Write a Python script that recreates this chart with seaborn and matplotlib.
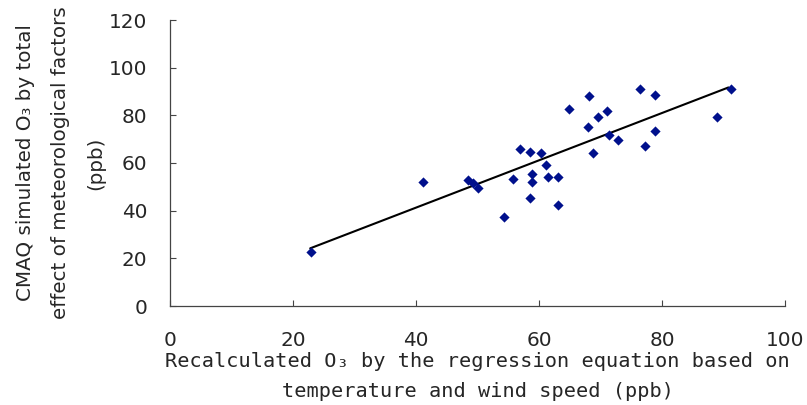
import matplotlib
matplotlib.use("Agg")
import matplotlib.pyplot as plt
import seaborn as sns
import pandas as pd

# ---- data ----
recalc_o3 = [22.9, 41.1, 48.5, 49.2, 50.0, 55.7, 54.3, 56.9, 58.5, 60.3,
             61.1, 58.8, 58.8, 61.4, 63.1, 58.5, 63.1, 64.8, 68.2, 68.0,
             69.6, 71.1, 71.4, 72.8, 68.8, 76.5, 78.8, 78.8, 77.3, 88.9, 91.2]
cmaq_o3 = [22.6, 52.0, 52.8, 51.7, 49.5, 53.2, 37.4, 66.0, 64.7, 64.3,
           59.2, 55.2, 51.9, 54.0, 54.0, 45.4, 42.3, 82.5, 88.1, 75.2,
           79.4, 81.9, 71.6, 69.7, 64.3, 91.0, 88.6, 73.4, 67.2, 79.4, 90.9]
trend_x = [22.8, 90.8]
trend_y = [24.2, 91.7]
x_ticks = [0, 20, 40, 60, 80, 100]
y_ticks = [0, 20, 40, 60, 80, 100, 120]

sns.set_style("white")
plt.rcParams["font.family"] = ["DejaVu Sans"]

df = pd.DataFrame({"x": recalc_o3, "y": cmaq_o3})
line_df = pd.DataFrame({"x": trend_x, "y": trend_y})

fig = plt.figure(figsize=(8.07, 4.05), dpi=100)
ax = fig.add_axes([170 / 807, 1 - 306 / 405, 615 / 807, 286 / 405])

sns.lineplot(data=line_df, x="x", y="y", ax=ax, color="black", linewidth=1.5)
sns.scatterplot(data=df, x="x", y="y", ax=ax, marker="D", s=27,
                color="#00108C", edgecolor="#00108C", linewidth=0, zorder=3)

ax.set_xlim(0, 100)
ax.set_ylim(0, 120)
ax.set_xticks(x_ticks)
ax.set_yticks(y_ticks)
ax.set_xticklabels([str(t) for t in x_ticks])
ax.set_yticklabels([str(t) for t in y_ticks])

for s in ["top", "right"]:
    ax.spines[s].set_visible(False)
for s in ["left", "bottom"]:
    ax.spines[s].set_color("#444444")
    ax.spines[s].set_linewidth(0.9)

ax.tick_params(axis="x", direction="in", length=4.3, width=0.8, color="#444444",
               labelsize=14.4, pad=18, bottom=True)
ax.tick_params(axis="y", direction="in", length=4.3, width=0.8, color="#444444",
               labelsize=14.4, pad=16.5, left=True)

ax.set_xlabel("Recalculated O₃ by the regression equation based on\ntemperature and wind speed (ppb)",
              family=["DejaVu Sans Mono", "DejaVu Sans"], fontsize=14.6, linespacing=1.7)
ax.xaxis.set_label_coords(0.5, -0.161)

ax.set_ylabel("CMAQ simulated O₃ by total\neffect of meteorological factors\n(ppb)",
              family=["DejaVu Sans"], fontsize=14.3, linespacing=2.07)
ax.yaxis.set_label_coords(-0.1057, 0.5)

fig.savefig("out.png", dpi=100)
